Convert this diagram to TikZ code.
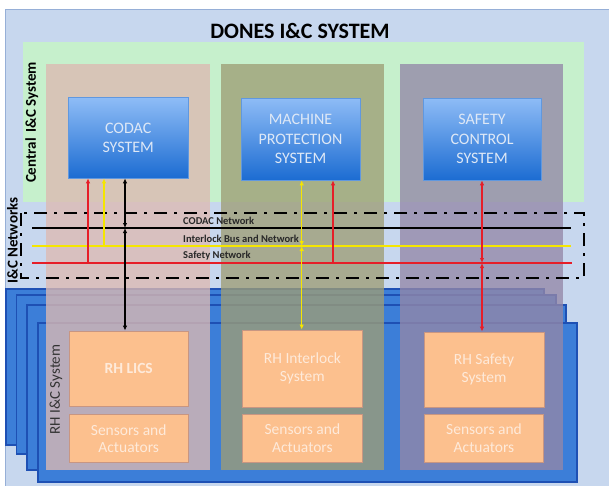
\documentclass[tikz,border=0pt]{standalone}
\usepackage{fontspec}
\setmainfont{Carlito}
\usetikzlibrary{arrows.meta}
\definecolor{bgblue}{RGB}{199,215,238}
\definecolor{framebl}{RGB}{150,175,215}
\definecolor{greenbg}{RGB}{198,240,204}
\definecolor{panelfill}{RGB}{60,126,216}
\definecolor{paneldraw}{RGB}{30,80,180}
\definecolor{colone}{RGB}{221,186,178}
\definecolor{coltwo}{RGB}{158,158,118}
\definecolor{colthree}{RGB}{148,136,168}
\definecolor{boxtop}{RGB}{142,188,246}
\definecolor{boxbot}{RGB}{28,108,210}
\definecolor{boxtext}{RGB}{222,232,246}
\definecolor{orangefill}{RGB}{252,192,142}
\definecolor{orangedraw}{RGB}{200,150,130}
\definecolor{orangetext}{RGB}{254,234,218}
\definecolor{netred}{RGB}{230,30,40}
\definecolor{netyellow}{RGB}{245,230,0}
\definecolor{labelgray}{RGB}{40,40,40}
\tikzset{
  panel/.style={fill=panelfill, draw=paneldraw, line width=1.4},
  column/.style={opacity=0.78},
  sysbox/.style={rectangle, inner sep=0, top color=boxtop, bottom color=boxbot,
    draw=boxbot!70!white, line width=0.6, text=boxtext, align=center,
    font=\fontsize{16}{19.5}\selectfont},
  rhbox/.style={rectangle, inner sep=0, fill=orangefill, draw=orangedraw, line width=0.8,
    text=orangetext, align=center, font=\fontsize{15.5}{17.5}\selectfont},
  netlabel/.style={anchor=west, inner sep=0, text=labelgray,
    font=\fontsize{10.5}{12}\selectfont\bfseries},
  sidelabel/.style={rotate=90, inner sep=0, font=\fontsize{15}{18}\selectfont\bfseries},
  netline/.style={line width=1.8},
  conn/.style={line width=1.5, {Latex[length=5pt,width=4.5pt]}-{Latex[length=5pt,width=4.5pt]}},
  upconn/.style={line width=1.5, -{Latex[length=5pt,width=4.5pt]}},
}
\begin{document}
\begin{tikzpicture}[x=1pt,y=-1pt]
\useasboundingbox (0,0) rectangle (609,485);
\fill[white] (0,0) rectangle (609,485);
% outer frame
\draw[fill=bgblue, draw=framebl, line width=1] (5.5,9.5) rectangle (615,490);
% title
\node[font=\fontsize{22}{26}\selectfont\bfseries, text=black] (title) at (300,30.5) {DONES I\&C SYSTEM};
% green central area
\fill[greenbg] (22.7,41.7) rectangle (584,201.7);
% stacked RH panels
\draw[panel] (6,289) rectangle (544,445);
\draw[panel] (16.7,295) rectangle (556,454);
\draw[panel] (27,305) rectangle (566,470);
\draw[panel] (38,323) rectangle (577,482);
% columns
\fill[colone, column] (45.5,64) rectangle (210,470);
\fill[coltwo, column] (220.5,64) rectangle (384,470);
\fill[colthree, column] (400,64) rectangle (563,470);
% side labels
\node[sidelabel] (central) at (31.7,122.5) {Central\, I\&C System};
\node[sidelabel] (netlab) at (12.5,240.5) {I\&C Networks};
\node[sidelabel, font=\fontsize{15}{18}\selectfont, text=black!80] (rhlab) at (56,389.5) {RH I\&C System};
% network coordinates
\coordinate (blkL) at (32,228);   \coordinate (blkR) at (571,228);
\coordinate (yelL) at (32,246);   \coordinate (yelR) at (571,246);
\coordinate (redL) at (32,263);   \coordinate (redR) at (572,263);
% network lines
\draw[netline, black] (blkL) -- (blkR);
\draw[netline, netyellow] (yelL) -- (yelR);
\draw[netline, netred] (redL) -- (redR);
\node[netlabel] (lcodac) at (183,221) {CODAC Network};
\node[netlabel] (linter) at (183,238.5) {Interlock Bus and Network};
\node[netlabel] (lsafe) at (183,256) {Safety Network};
% dash-dot box
\draw[line width=2.6, dash pattern=on 13pt off 7pt on 3pt off 7pt] (21,213) rectangle (584,278);
% central boxes
\node[sysbox, minimum width=119.7, minimum height=80.3] (codac) at (128.2,137.9) {CODAC\\SYSTEM};
\node[sysbox, minimum width=119, minimum height=82] (mps) at (300.5,139) {MACHINE\\PROTECTION\\SYSTEM};
\node[sysbox, minimum width=118, minimum height=82] (scs) at (482,139) {SAFETY\\CONTROL\\SYSTEM};
% RH boxes
\node[rhbox, minimum width=118.7, minimum height=75] (lics) at (128.7,368.5) {\bfseries RH LICS};
\node[rhbox, minimum width=119.3, minimum height=77] (rhint) at (302.4,368.5) {RH Interlock\\System};
\node[rhbox, minimum width=120, minimum height=75] (rhsafe) at (484,369.5) {RH Safety\\System};
\node[rhbox, minimum width=118.7, minimum height=48] (sens1) at (128.7,438.7) {Sensors and\\Actuators};
\node[rhbox, minimum width=119.3, minimum height=48] (sens2) at (302.4,438) {Sensors and\\Actuators};
\node[rhbox, minimum width=119, minimum height=48] (sens3) at (484,438) {Sensors and\\Actuators};
% junctions on networks
\coordinate (jr1) at (88,263);
\coordinate (jy1) at (104,246);
\coordinate (jb1) at (125,228);
\coordinate (jy2) at (301.7,246);
\coordinate (jr2) at (333,263);
\coordinate (jr3) at (482,263);
% connectors
\draw[upconn, netred] (jr1) -- (codac.south -| jr1);
\draw[upconn, netyellow] (jy1) -- (codac.south -| jy1);
\draw[conn, black] (codac.south -| jb1) -- (jb1);
\draw[conn, black] (jb1) -- (lics.north -| jb1);
\draw[conn, netyellow] (mps.south -| jy2) -- (jy2);
\draw[conn, netyellow] (jy2) -- (rhint.north -| jy2);
\draw[upconn, netred] (jr2) -- (mps.south -| jr2);
\draw[conn, netred] (scs.south -| jr3) -- (jr3);
\draw[conn, netred] (jr3) -- (rhsafe.north -| jr3);
\end{tikzpicture}
\end{document}
